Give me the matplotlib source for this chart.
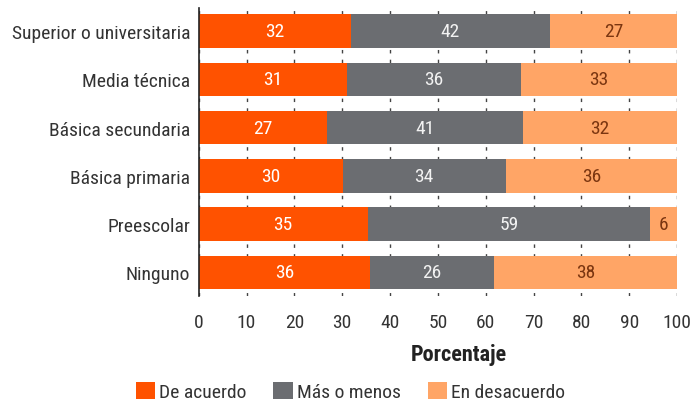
import matplotlib
matplotlib.use("Agg")
import matplotlib.pyplot as plt
import numpy as np

categories = ["Superior o universitaria", "Media técnica", "Básica secundaria",
              "Básica primaria", "Preescolar", "Ninguno"]
de_acuerdo = [31.8, 31.1, 26.9, 30.1, 35.3, 35.9]
mas_o_menos = [41.6, 36.2, 41.0, 34.1, 59.1, 25.8]
en_desacuerdo = [26.6, 32.7, 32.1, 35.8, 5.6, 38.3]
series_names = ["De acuerdo", "Más o menos", "En desacuerdo"]
xticks = [0, 10, 20, 30, 40, 50, 60, 70, 80, 90, 100]

colors = ["#FF5200", "#6B6D71", "#FFA566"]
text_colors = ["white", "#F2F2F2", "#7A3510"]

plt.rcParams['font.family'] = ['Roboto Condensed', 'Liberation Sans Narrow', 'Liberation Sans', 'DejaVu Sans']

fig = plt.figure(figsize=(6.94, 4.06), dpi=100)
ax = fig.add_axes([0.2863, 0.2685, 0.6892, 0.7094])

y = np.arange(len(categories))
left = np.zeros(len(categories))
handles = []
for vals, col, tcol, name in zip([de_acuerdo, mas_o_menos, en_desacuerdo],
                                 colors, text_colors, series_names):
    vals = np.array(vals)
    bars = ax.barh(y, vals, left=left, height=0.69, color=col, label=name, zorder=2)
    handles.append(bars)
    for yi, l, v in zip(y, left, vals):
        ax.text(l + v / 2, yi, f"{v:.0f}", ha="center", va="center",
                color=tcol, fontsize=14, zorder=3)
    left = left + vals

ax.set_ylim(5.49, -0.48)
ax.set_xlim(0, 100)
ax.set_yticks(y)
ax.set_yticklabels(categories, fontsize=14, color="#333333")
ax.set_xticks(xticks)
ax.set_xticklabels([str(t) for t in xticks], fontsize=14, color="#333333")
ax.tick_params(axis="both", length=0)
ax.tick_params(axis="x", pad=12)
ax.tick_params(axis="y", pad=6)

for s in ["top", "right", "bottom"]:
    ax.spines[s].set_visible(False)
ax.spines["left"].set_color("#222222")
ax.spines["left"].set_linewidth(1.2)
ax.spines["left"].set_zorder(4)

ax.xaxis.grid(True, color="#444444", linewidth=1.0, linestyle=(0, (2.5, 4.5)), zorder=1)
ax.set_axisbelow(True)

fig.text(0.661, 0.126, "Porcentaje", ha="center", va="center",
         fontsize=16, fontweight="bold", color="#222222")

fig.legend(handles=handles, labels=series_names, loc="center",
           bbox_to_anchor=(0.505, 0.033), ncol=3, frameon=False,
           fontsize=14, handlelength=1.0, handleheight=1.0,
           handletextpad=0.2, columnspacing=1.4, labelcolor="#333333")

fig.savefig("out.png", dpi=100)
